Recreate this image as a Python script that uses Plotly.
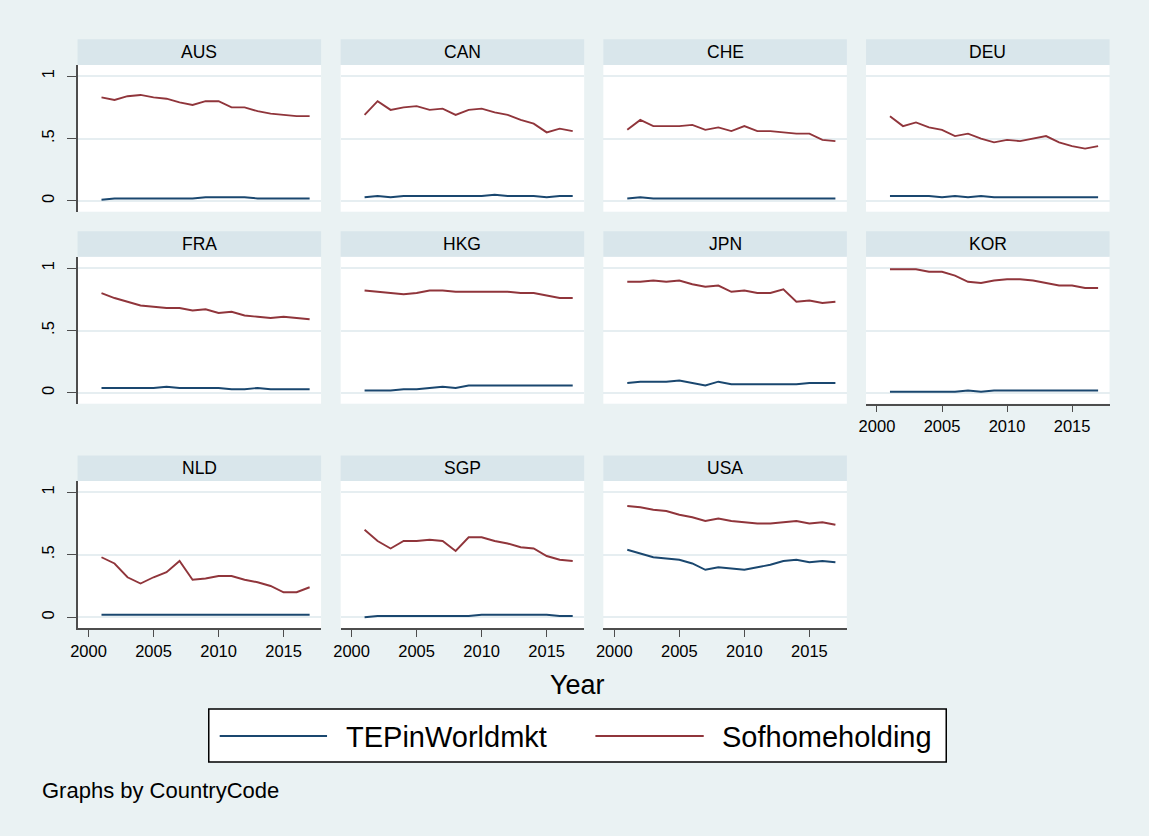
import plotly.graph_objects as go

W, H = 1149, 836

years = list(range(2001, 2018))
countries = ["AUS", "CAN", "CHE", "DEU", "FRA", "HKG", "JPN", "KOR", "NLD", "SGP", "USA"]

tep_AUS = [0.01,0.02,0.02,0.02,0.02,0.02,0.02,0.02,0.03,0.03,0.03,0.03,0.02,0.02,0.02,0.02,0.02]
hold_AUS = [0.83,0.81,0.84,0.85,0.83,0.82,0.79,0.77,0.80,0.80,0.75,0.75,0.72,0.70,0.69,0.68,0.68]
tep_CAN = [0.03,0.04,0.03,0.04,0.04,0.04,0.04,0.04,0.04,0.04,0.05,0.04,0.04,0.04,0.03,0.04,0.04]
hold_CAN = [0.69,0.80,0.73,0.75,0.76,0.73,0.74,0.69,0.73,0.74,0.71,0.69,0.65,0.62,0.55,0.58,0.56]
tep_CHE = [0.02,0.03,0.02,0.02,0.02,0.02,0.02,0.02,0.02,0.02,0.02,0.02,0.02,0.02,0.02,0.02,0.02]
hold_CHE = [0.57,0.65,0.60,0.60,0.60,0.61,0.57,0.59,0.56,0.60,0.56,0.56,0.55,0.54,0.54,0.49,0.48]
tep_DEU = [0.04,0.04,0.04,0.04,0.03,0.04,0.03,0.04,0.03,0.03,0.03,0.03,0.03,0.03,0.03,0.03,0.03]
hold_DEU = [0.68,0.60,0.63,0.59,0.57,0.52,0.54,0.50,0.47,0.49,0.48,0.50,0.52,0.47,0.44,0.42,0.44]
tep_FRA = [0.04,0.04,0.04,0.04,0.04,0.05,0.04,0.04,0.04,0.04,0.03,0.03,0.04,0.03,0.03,0.03,0.03]
hold_FRA = [0.80,0.76,0.73,0.70,0.69,0.68,0.68,0.66,0.67,0.64,0.65,0.62,0.61,0.60,0.61,0.60,0.59]
tep_HKG = [0.02,0.02,0.02,0.03,0.03,0.04,0.05,0.04,0.06,0.06,0.06,0.06,0.06,0.06,0.06,0.06,0.06]
hold_HKG = [0.82,0.81,0.80,0.79,0.80,0.82,0.82,0.81,0.81,0.81,0.81,0.81,0.80,0.80,0.78,0.76,0.76]
tep_JPN = [0.08,0.09,0.09,0.09,0.10,0.08,0.06,0.09,0.07,0.07,0.07,0.07,0.07,0.07,0.08,0.08,0.08]
hold_JPN = [0.89,0.89,0.90,0.89,0.90,0.87,0.85,0.86,0.81,0.82,0.80,0.80,0.83,0.73,0.74,0.72,0.73]
tep_KOR = [0.01,0.01,0.01,0.01,0.01,0.01,0.02,0.01,0.02,0.02,0.02,0.02,0.02,0.02,0.02,0.02,0.02]
hold_KOR = [0.99,0.99,0.99,0.97,0.97,0.94,0.89,0.88,0.90,0.91,0.91,0.90,0.88,0.86,0.86,0.84,0.84]
tep_NLD = [0.02,0.02,0.02,0.02,0.02,0.02,0.02,0.02,0.02,0.02,0.02,0.02,0.02,0.02,0.02,0.02,0.02]
hold_NLD = [0.48,0.43,0.32,0.27,0.32,0.36,0.45,0.30,0.31,0.33,0.33,0.30,0.28,0.25,0.20,0.20,0.24]
tep_SGP = [0.00,0.01,0.01,0.01,0.01,0.01,0.01,0.01,0.01,0.02,0.02,0.02,0.02,0.02,0.02,0.01,0.01]
hold_SGP = [0.70,0.61,0.55,0.61,0.61,0.62,0.61,0.53,0.64,0.64,0.61,0.59,0.56,0.55,0.49,0.46,0.45]
tep_USA = [0.54,0.51,0.48,0.47,0.46,0.43,0.38,0.40,0.39,0.38,0.40,0.42,0.45,0.46,0.44,0.45,0.44]
hold_USA = [0.89,0.88,0.86,0.85,0.82,0.80,0.77,0.79,0.77,0.76,0.75,0.75,0.76,0.77,0.75,0.76,0.74]

tep_series = [tep_AUS, tep_CAN, tep_CHE, tep_DEU, tep_FRA, tep_HKG, tep_JPN, tep_KOR, tep_NLD, tep_SGP, tep_USA]
hold_series = [hold_AUS, hold_CAN, hold_CHE, hold_DEU, hold_FRA, hold_HKG, hold_JPN, hold_KOR, hold_NLD, hold_SGP, hold_USA]

x_tickvals = [2000, 2005, 2010, 2015]
y_tickvals = [0, 0.5, 1]
y_ticktext = ["0", ".5", "1"]
series_names = ["TEPinWorldmkt", "Sofhomeholding"]

BG = "#EAF2F3"
STRIP = "#D9E6EB"
GRID = "#E6EEF1"
BLUE = "#1A476F"
RED = "#90353B"
AXC = "#4d4d4d"
FONT = "Liberation Sans, Arial, sans-serif"

col_left = [71, 335.7, 600, 864.3]
panel_w = 245
rows_px = [(39.3, 65, 211.7), (231.3, 256.8, 403.7), (455.5, 481, 628)]  # strip top, plot top, plot bottom

fig = go.Figure()
shapes = []
annotations = []

def px2x(px):
    return px / W

def px2y(py):
    return 1 - py / H

for i, cc in enumerate(countries):
    r, c = divmod(i, 4)
    st, pt, pb = rows_px[r]
    x0, x1 = col_left[c], col_left[c] + panel_w
    ax = "" if i == 0 else str(i + 1)
    show_x = (r == 2) or (cc == "KOR")
    show_y = (c == 0)
    fig.add_trace(go.Scatter(x=years, y=tep_series[i], mode="lines", line=dict(color=BLUE, width=1.9),
                             name=series_names[0], showlegend=False, xaxis="x" + ax, yaxis="y" + ax))
    fig.add_trace(go.Scatter(x=years, y=hold_series[i], mode="lines", line=dict(color=RED, width=1.9),
                             name=series_names[1], showlegend=False, xaxis="x" + ax, yaxis="y" + ax))
    fig.layout["xaxis" + ax] = dict(
        domain=[px2x(x0), px2x(x1)], range=[1999.16, 2017.88], anchor="y" + ax,
        showgrid=False, zeroline=False, tickvals=x_tickvals,
        showticklabels=show_x, ticks="outside" if show_x else "", ticklen=7, tickwidth=1.3,
        tickcolor=AXC, showline=show_x, linecolor=AXC, linewidth=1.5,
        tickfont=dict(family=FONT, size=16.5, color="black"),
    )
    fig.layout["yaxis" + ax] = dict(
        domain=[px2y(pb), px2y(pt)], range=[-0.086, 1.09], anchor="x" + ax,
        showgrid=True, gridcolor=GRID, gridwidth=2, zeroline=False,
        tickvals=y_tickvals, ticktext=y_ticktext, tickangle=-90,
        showticklabels=show_y, ticks="outside" if show_y else "", ticklen=9, tickwidth=1.3,
        tickcolor=AXC, showline=show_y, linecolor=AXC, linewidth=1.5, ticklabelstandoff=6,
        tickfont=dict(family=FONT, size=16.5, color="black"),
    )
    shapes.append(dict(type="rect", xref="paper", yref="paper", x0=px2x(x0), x1=px2x(x1),
                       y0=px2y(pt), y1=px2y(st), fillcolor=STRIP, line=dict(width=0), layer="below"))
    annotations.append(dict(text=cc, xref="paper", yref="paper", x=px2x((x0 + x1) / 2), y=px2y((st + pt) / 2),
                            xanchor="center", yanchor="middle", showarrow=False,
                            font=dict(family=FONT, size=17.5, color="black")))

# x-axis title
annotations.append(dict(text="Year", xref="paper", yref="paper", x=px2x(574), y=px2y(685),
                        xanchor="center", yanchor="middle", showarrow=False,
                        font=dict(family=FONT, size=27, color="black")))

# legend box
shapes.append(dict(type="rect", xref="paper", yref="paper", x0=px2x(203), x1=px2x(945),
                   y0=px2y(762), y1=px2y(709), fillcolor="white", line=dict(color="black", width=1.5)))
shapes.append(dict(type="line", xref="paper", yref="paper", x0=px2x(214), x1=px2x(322),
                   y0=px2y(736), y1=px2y(736), line=dict(color=BLUE, width=2.2)))
shapes.append(dict(type="line", xref="paper", yref="paper", x0=px2x(592), x1=px2x(701),
                   y0=px2y(736), y1=px2y(736), line=dict(color=RED, width=2.2)))
annotations.append(dict(text=series_names[0], xref="paper", yref="paper", x=px2x(339), y=px2y(737),
                        xanchor="left", yanchor="middle", showarrow=False,
                        font=dict(family=FONT, size=29, color="black")))
annotations.append(dict(text=series_names[1], xref="paper", yref="paper", x=px2x(717), y=px2y(737),
                        xanchor="left", yanchor="middle", showarrow=False,
                        font=dict(family=FONT, size=29, color="black")))

# note
annotations.append(dict(text="Graphs by CountryCode", xref="paper", yref="paper", x=px2x(33), y=px2y(790),
                        xanchor="left", yanchor="middle", showarrow=False,
                        font=dict(family=FONT, size=22, color="black")))

fig.update_layout(
    width=W, height=H, margin=dict(l=0, r=0, t=0, b=0),
    paper_bgcolor=BG, plot_bgcolor="white", showlegend=False,
    shapes=shapes, annotations=annotations,
    font=dict(family=FONT, color="black"),
)

fig.write_html("out.html",
               config={"displayModeBar": False},
               post_script="document.body.style.margin='0';document.body.style.padding='0';"
                           "document.body.style.overflow='hidden';"
                           "document.documentElement.style.overflow='hidden';")
